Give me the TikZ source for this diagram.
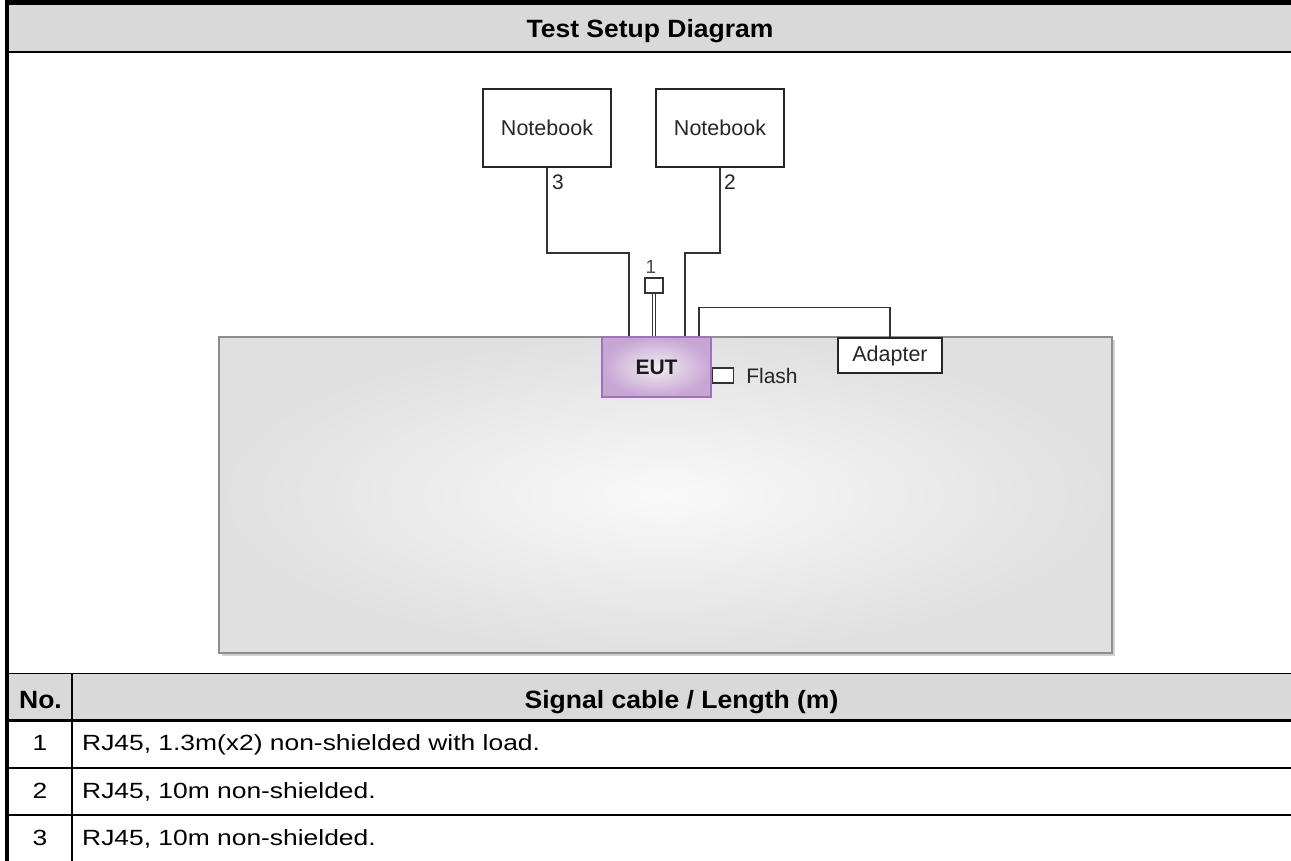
\documentclass[tikz,border=0pt]{standalone}
\usepackage{fontspec}
\setmainfont{Liberation Sans}
\newfontfamily\tabfont[FakeStretch=1.2]{Liberation Sans}
\newfontfamily\hdfont[FakeStretch=1.06]{Liberation Sans}
\definecolor{hdrgray}{HTML}{D9D9D9}
\definecolor{benchin}{HTML}{FAF9FA}
\definecolor{benchout}{HTML}{E0E0E0}
\definecolor{benchedge}{HTML}{8E8E8E}
\definecolor{eutin}{HTML}{F2ECF3}
\definecolor{eutout}{HTML}{C7A6D4}
\definecolor{eutedge}{HTML}{A072B8}
\begin{document}
\begin{tikzpicture}[x=1pt,y=-1pt,
  cable/.style={draw=black!80,line width=1.5},
  devbox/.style={draw=black!85,line width=1.8,fill=white,inner sep=0pt,font=\fontsize{21.5}{24}\selectfont,text=black!85},
  smallbox/.style={draw=black!80,line width=1.3,fill=white,inner sep=0pt},
  lbl/.style={inner sep=0pt,font=\fontsize{21}{24}\selectfont,text=black!85},
  hdtext/.style={inner sep=0pt,font=\hdfont\bfseries\fontsize{25}{30}\selectfont},
  tabtext/.style={inner sep=0pt,font=\tabfont\fontsize{22}{26}\selectfont}]
\useasboundingbox (0,0) rectangle (1291,861);
\fill[white] (0,0) rectangle (1291,861);
% header
\fill[hdrgray] (9,5) rectangle (1291,52);
\node[hdtext,anchor=base] (title) at (650,38) {Test Setup Diagram};
% bench
\fill[black!18] (221.5,339.5) rectangle (1114.5,655.5);
\node[draw=benchedge,line width=1.5,inner color=benchin,outer color=benchout,minimum width=893,minimum height=316,inner sep=0pt] (bench) at (665.5,495) {};
% devices
\node[devbox,minimum width=128,minimum height=78] (nb3) at (547,128) {Notebook};
\node[devbox,minimum width=128,minimum height=78] (nb2) at (720,128) {Notebook};
\node[draw=eutedge,line width=1.5,inner color=eutin,outer color=eutout,minimum width=109,minimum height=60,inner sep=0pt,font=\bfseries\fontsize{21}{24}\selectfont,text=black!90] (eut) at (656.5,367) {EUT};
\node[devbox,line width=1.6,minimum width=104,minimum height=35] (adapter) at (890,355.5) {Adapter};
\node[smallbox,minimum width=18,minimum height=15] (lan1) at (654,285.5) {};
\node[smallbox,minimum width=21,minimum height=15,anchor=west] (flash) at ([yshift=-8.5]eut.east) {};
\node[lbl,anchor=west] (flashlbl) at ([xshift=12]flash.east) {Flash};
% labels
\node[lbl,anchor=base west] (l3) at (552,190) {3};
\node[lbl,anchor=base west] (l2) at (724,190) {2};
\node[lbl,anchor=base,font=\fontsize{19}{22}\selectfont,text=black!70] (l1) at (651,273) {1};
% cables
\draw[cable] (nb3.south) -- ++(0,85) -| ([xshift=-27.5]eut.north);
\draw[cable] (nb2.south) -- ++(0,85) -| ([xshift=28.5]eut.north);
\draw[cable] ([xshift=42.5]eut.north) -- ++(0,-29) -| (adapter.north);
\draw[draw=black!80,line width=1.2,double=white,double distance=2.4] (lan1.south) -- (lan1.south |- eut.north);
% table
\fill[hdrgray] (9,673) rectangle (1291,720);
\draw[line width=1] (9,673) -- (1291,673);
\draw[line width=2.2] (9,720.5) -- (1291,720.5);
\draw[line width=2] (9,768) -- (1291,768);
\draw[line width=2] (9,815) -- (1291,815);
\draw[line width=1.2] (72,673) -- (72,861);
\node[hdtext,anchor=base] (no) at (40.5,708) {No.};
\node[hdtext,anchor=base] (sig) at (681.5,708) {Signal cable / Length (m)};
\node[tabtext,anchor=base] (n1) at (40,750) {1};
\node[tabtext,anchor=base west] (t1) at (82,750) {RJ45, 1.3m(x2) non-shielded with load.};
\node[tabtext,anchor=base] (n2) at (40,798) {2};
\node[tabtext,anchor=base west] (t2) at (82,798) {RJ45, 10m non-shielded.};
\node[tabtext,anchor=base] (n3) at (40,845) {3};
\node[tabtext,anchor=base west] (t3) at (82,845) {RJ45, 10m non-shielded.};
% frame
\fill[black] (5,0) rectangle (9,861);
\fill[black] (5,0) rectangle (1291,5);
\draw[line width=2] (9,52) -- (1291,52);
\end{tikzpicture}
\end{document}
